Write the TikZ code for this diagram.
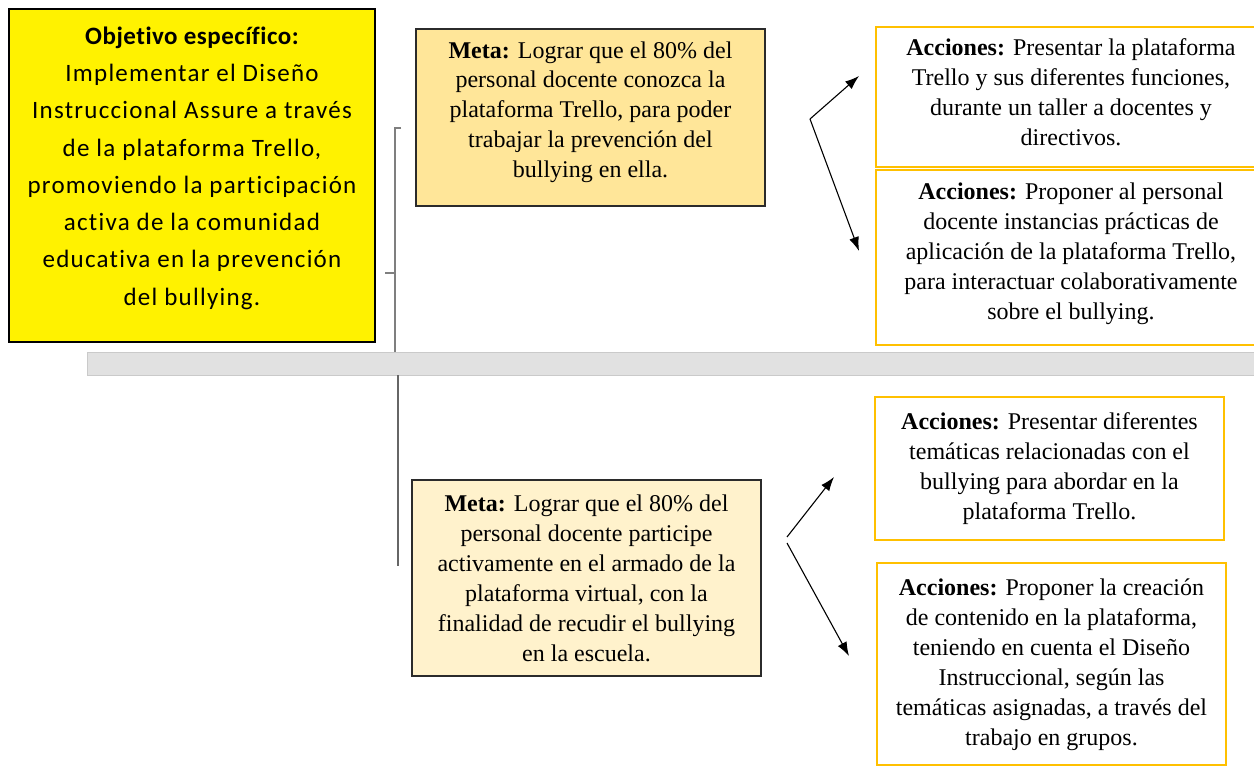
\documentclass[tikz,border=0pt]{standalone}
\usepackage{fontspec}
\setmainfont{Liberation Serif}
\newfontfamily\calib[LetterSpace=5,Ligatures=NoCommon]{Carlito}
\newfontfamily\calibhead[LetterSpace=2,Ligatures=NoCommon]{Carlito}
\usetikzlibrary{arrows.meta}
\definecolor{metaA}{HTML}{FFE699}
\definecolor{metaB}{HTML}{FFF2CC}
\definecolor{goldline}{HTML}{FFC000}
\definecolor{bandfill}{HTML}{E1E1E1}
\definecolor{bandline}{HTML}{CACACA}
\definecolor{brk}{HTML}{7F7F7F}
\definecolor{metaline}{HTML}{2B2B2B}
\newcommand{\tbox}[4]{\parbox[c][#2][t]{#1}{\centering\fontsize{24}{30}\selectfont\vspace*{#3}\strut #4}}
\newcommand{\ybox}[4]{\parbox[c][#2][t]{#1}{\centering\fontsize{25}{37.3}\selectfont\vspace*{#3}\strut #4}}
\begin{document}
\begin{tikzpicture}[x=1pt,y=-1pt,
  boxbase/.style={anchor=north west, inner sep=0pt, outer sep=0pt},
  objstyle/.style={boxbase, draw=black, line width=2.5pt, fill=yellow},
  metaone/.style={boxbase, draw=metaline, line width=1.5pt, fill=metaA},
  metatwo/.style={boxbase, draw=metaline, line width=1.5pt, fill=metaB},
  acc/.style={boxbase, draw=goldline, line width=1.5pt, fill=white},
  bracket/.style={draw=brk, line width=1.8pt},
  arr/.style={draw=black, line width=1.1pt, -{Latex[length=14pt,width=10pt]}}
]
\clip (0,0) rectangle (1254,776);
\fill[white] (0,0) rectangle (1254,776);

% grey band
\filldraw[fill=bandfill, draw=bandline, line width=1pt] (87,352) rectangle (1262,375);

% bracket
\coordinate (bt) at (401,128);
\coordinate (bc) at (395,128);
\coordinate (bb) at (395,352);
\coordinate (tk) at (385,273);
\coordinate (tm) at (395,273);
\coordinate (lt) at (398,375);
\coordinate (lb) at (398,566);
\draw[bracket] (bt) -- (bc) -- (bb);
\draw[bracket] (tk) -- (tm);
\draw[bracket, draw=brk!80!black] (lt) -- (lb);

% objective
\node[objstyle] (obj) at (9,9) {\ybox{366pt}{333pt}{9pt}{%
{\calibhead\bfseries Objetivo específico:}\\
\calib Implementar el Diseño\\
Instruccional Assure a través\\
de la plataforma Trello,\\
promoviendo la participación\\
activa de la comunidad\\
educativa en la prevención\\
del bullying.}};

% metas
\node[metaone] (meta1) at (416,29) {\tbox{349pt}{177pt}{8pt}{%
\textbf{Meta:} Lograr que el 80\% del\\
personal docente conozca la\\
plataforma Trello, para poder\\
trabajar la prevención del\\
bullying en ella.}};

\node[metatwo] (meta2) at (412,480) {\tbox{349pt}{196pt}{10pt}{%
\textbf{Meta:} Lograr que el 80\% del\\
personal docente participe\\
activamente en el armado de la\\
plataforma virtual, con la\\
finalidad de recudir el bullying\\
en la escuela.}};

% acciones
\node[acc] (acc1) at (876,27) {\tbox{390pt}{140pt}{8pt}{%
\textbf{Acciones:} Presentar la plataforma\\
Trello y sus diferentes funciones,\\
durante un taller a docentes y\\
directivos.}};

\node[acc] (acc2) at (876,170) {\tbox{390pt}{175pt}{8pt}{%
\textbf{Acciones:} Proponer al personal\\
docente instancias prácticas de\\
aplicación de la plataforma Trello,\\
para interactuar colaborativamente\\
sobre el bullying.}};

\node[acc] (acc3) at (875,397) {\tbox{349pt}{143pt}{11pt}{%
\textbf{Acciones:} Presentar diferentes\\
temáticas relacionadas con el\\
bullying para abordar en la\\
plataforma Trello.}};

\node[acc] (acc4) at (877,563) {\tbox{349pt}{202pt}{11pt}{%
\textbf{Acciones:} Proponer la creación\\
de contenido en la plataforma,\\
teniendo en cuenta el Diseño\\
Instruccional, según las\\
temáticas asignadas, a través del\\
trabajo en grupos.}};

% arrows
\coordinate (ao) at (810,119);
\coordinate (at1) at (859,76);
\coordinate (at2) at (859,251);
\coordinate (bo1) at (787,537);
\coordinate (bt1) at (834,477);
\coordinate (bo2) at (787,543);
\coordinate (bt2) at (849,656);
\draw[arr] (ao) -- (at1);
\draw[arr] (ao) -- (at2);
\draw[arr] (bo1) -- (bt1);
\draw[arr] (bo2) -- (bt2);
\end{tikzpicture}
\end{document}
